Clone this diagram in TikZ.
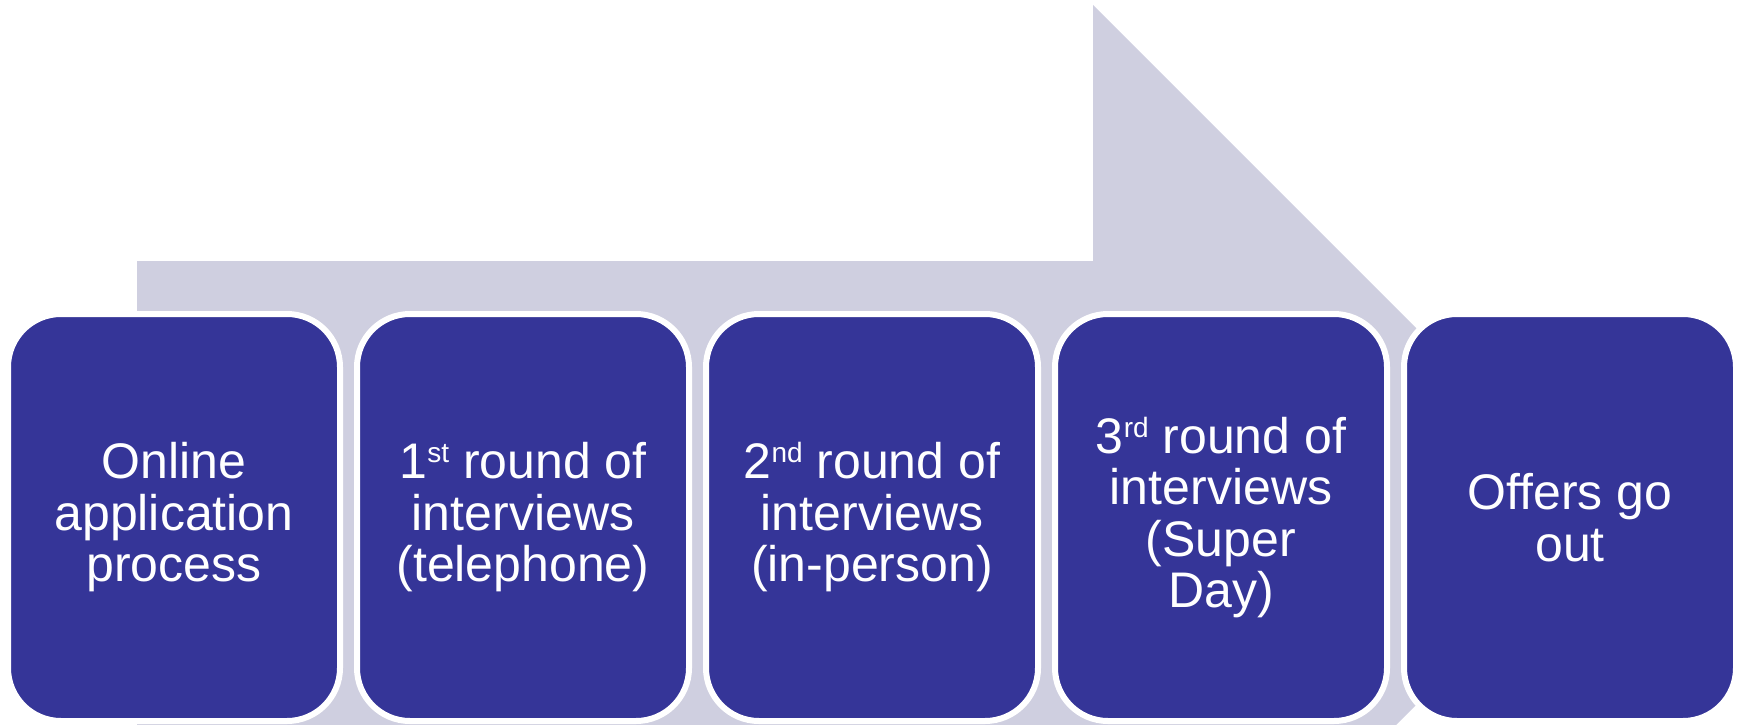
\documentclass[tikz,border=0pt]{standalone}
\usepackage{fontspec}
\setmainfont{Liberation Sans}
\definecolor{boxblue}{RGB}{53,53,152}
\definecolor{arrowgray}{RGB}{207,207,224}
\newcommand\sups[1]{\raisebox{16pt}{\fontsize{28}{28}\selectfont #1}}
\begin{document}
\begin{tikzpicture}[x=1pt,y=-1pt,
  stagebox/.style={draw=white, line width=6pt, fill=boxblue, rounded corners=53pt,
    minimum width=332pt, minimum height=407pt, inner sep=0pt,
    text=white, align=center, font=\fontsize{50}{51.5}\selectfont}]
\useasboundingbox (0,0) rectangle (1739,725);
\begin{scope}
\clip (0,0) rectangle (1739,725);
\fill[arrowgray] (137,261) -- (1093,261) -- (1093,5) -- (1604.5,516.5)
  -- (1093,1028) -- (1093,772) -- (137,772) -- cycle;
\end{scope}
\node[stagebox] (s1) at (174,517.5) {Online\\application\\process};
\node[stagebox] (s2) at (523,517.5) {1\sups{st} round of\\interviews\\(telephone)};
\node[stagebox] (s3) at (872,517.5) {2\sups{nd} round of\\interviews\\(in-person)};
\node[stagebox] (s4) at (1221,517.5) {3\sups{rd} round of\\interviews\\(Super\\Day)};
\node[stagebox] (s5) at (1570,517.5) {Offers go\\out};
\end{tikzpicture}
\end{document}
